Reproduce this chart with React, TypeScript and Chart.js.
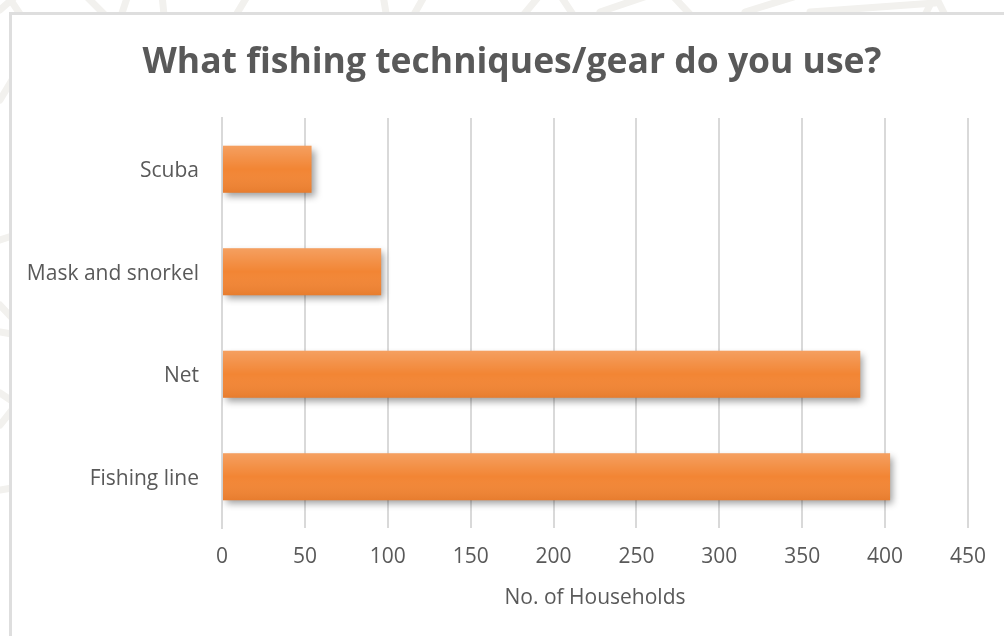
import React, { useEffect, useRef } from "react";
import { Chart, registerables } from "chart.js";

Chart.register(...registerables);

// Survey answers: number of households using each technique
const categories: string[] = ["Scuba", "Mask and snorkel", "Net", "Fishing line"];
const households: number[] = [54, 96, 385, 403];
const tickValues: number[] = [0, 50, 100, 150, 200, 250, 300, 350, 400, 450];

const chartTitle = "What fishing techniques/gear do you use?";
const axisTitle = "No. of Households";

const TEXT = "#595959";
const GRID = "#d9d9d9";
const FONT = "'Open Sans', 'Noto Sans', sans-serif";

// Faint decorative strokes in the margin around the framed chart
const watermarkPlugin = {
  id: "watermark",
  beforeDraw(chart: Chart) {
    const ctx = chart.ctx;
    ctx.save();
    ctx.beginPath();
    ctx.rect(0, 0, chart.width, 12);
    ctx.rect(0, 12, 9, chart.height - 12);
    ctx.clip();
    ctx.strokeStyle = "#f2f1ee";
    ctx.lineWidth = 7;
    ctx.lineCap = "round";
    const strokes: number[][] = [
      [0, 10, 18, -6], [8, -4, 20, 14], [85, -5, 115, 25], [118, 25, 128, -5],
      [162, -5, 165, 25], [230, 25, 248, -5], [383, -5, 388, 25], [408, 25, 425, -5],
      [515, 25, 540, -5], [560, -5, 580, 25], [600, 12, 650, -5], [672, -5, 700, 25],
      [745, 12, 800, -5], [810, 12, 935, 3], [925, 15, 935, -5], [935, -5, 945, 15],
      [0, 100, 12, 80], [0, 240, 12, 236], [0, 305, 12, 318], [0, 332, 12, 334],
      [0, 393, 12, 401], [0, 425, 12, 410], [0, 490, 12, 488],
    ];
    for (const s of strokes) {
      ctx.beginPath();
      ctx.moveTo(s[0], s[1]);
      ctx.lineTo(s[2], s[3]);
      ctx.stroke();
    }
    ctx.restore();
  },
};

// Drop shadow under the bars plus a soft vertical sheen on each bar
const barStylePlugin = {
  id: "barStyle",
  beforeDatasetDraw(chart: Chart) {
    const ctx = chart.ctx;
    ctx.save();
    ctx.shadowColor = "rgba(0,0,0,0.38)";
    ctx.shadowBlur = 7;
    ctx.shadowOffsetX = 3;
    ctx.shadowOffsetY = 4;
  },
  afterDatasetDraw(chart: Chart, args: any) {
    const ctx = chart.ctx;
    ctx.restore();
    const meta = chart.getDatasetMeta(args.index);
    ctx.save();
    for (const el of meta.data as any[]) {
      const p = el.getProps(["x", "y", "base", "height"], true);
      const top = p.y - p.height / 2;
      const left = Math.min(p.base, p.x);
      const w = Math.abs(p.x - p.base);
      const g = ctx.createLinearGradient(0, top, 0, top + p.height);
      g.addColorStop(0, "rgba(255,255,255,0.22)");
      g.addColorStop(0.5, "rgba(255,255,255,0)");
      g.addColorStop(1, "rgba(150,60,0,0.12)");
      ctx.fillStyle = g;
      ctx.fillRect(left, top, w, p.height);
    }
    ctx.restore();
  },
};

export default function App() {
  const canvasRef = useRef<HTMLCanvasElement | null>(null);

  useEffect(() => {
    document.body.style.margin = "0";
    const canvas = canvasRef.current;
    if (!canvas) return;
    const chart = new Chart(canvas, {
      type: "bar",
      data: {
        labels: categories,
        datasets: [
          {
            label: axisTitle,
            data: households,
            backgroundColor: "#f28534",
            borderWidth: 0,
            barPercentage: 0.46,
            categoryPercentage: 1,
          },
        ],
      },
      options: {
        indexAxis: "y",
        responsive: false,
        animation: false,
        devicePixelRatio: 1,
        layout: { padding: { top: 0, right: 0, bottom: 0, left: 20 } },
        plugins: {
          legend: { display: false },
          tooltip: { enabled: false },
          title: {
            display: true,
            text: chartTitle,
            color: TEXT,
            font: { family: FONT, size: 35.5, weight: "bold", lineHeight: 1.2 },
            padding: { top: 42, bottom: 33.4 },
          },
        },
        scales: {
          x: {
            min: 0,
            max: 450,
            afterBuildTicks(scale: any) {
              scale.ticks = tickValues.map((v) => ({ value: v }));
            },
            afterFit(scale: any) {
              scale.height = 108;
            },
            grid: { color: GRID, lineWidth: 2, drawTicks: false },
            border: { display: false },
            ticks: {
              color: TEXT,
              font: { family: FONT, size: 21 },
              padding: 16,
            },
            title: {
              display: true,
              text: axisTitle,
              color: TEXT,
              font: { family: FONT, size: 21, lineHeight: 1.2 },
              padding: { top: 0, bottom: 25 },
            },
          },
          y: {
            afterFit(scale: any) {
              scale.width = 202;
            },
            grid: { display: false, drawTicks: false },
            border: { display: true, color: GRID, width: 2 },
            ticks: {
              color: TEXT,
              font: { family: FONT, size: 21 },
              padding: 23,
              labelOffset: 2,
            },
          },
          // empty right-hand margin that keeps the plot clear of the edge
          rightMargin: {
            type: "linear",
            position: "right",
            display: true,
            afterFit(scale: any) {
              scale.width = 36;
            },
            grid: { display: false, drawTicks: false },
            border: { display: false },
            ticks: { display: false },
          },
        },
      },
      plugins: [watermarkPlugin, barStylePlugin],
    });
    return () => chart.destroy();
  }, []);

  return (
    <div style={{ position: "relative", width: 1004, height: 636, background: "#ffffff", overflow: "hidden" }}>
      <canvas ref={canvasRef} width={1004} height={636} style={{ position: "absolute", left: 0, top: 0 }} />
      <div
        style={{
          position: "absolute",
          left: 9,
          top: 12,
          width: 1010,
          height: 640,
          borderLeft: "3px solid #dedede",
          borderTop: "3px solid #dedede",
          pointerEvents: "none",
        }}
      />
    </div>
  );
}
